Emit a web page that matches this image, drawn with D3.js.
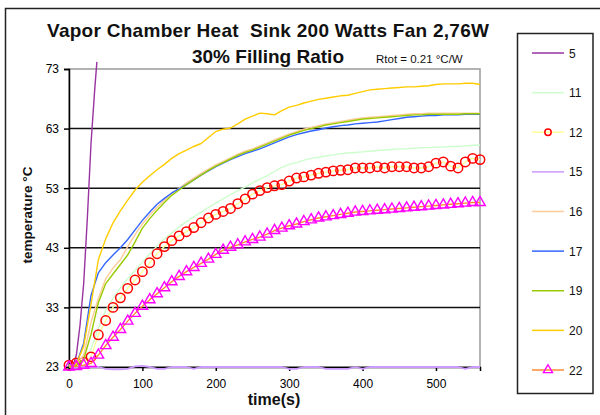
<!DOCTYPE html>
<html>
<head>
<meta charset="utf-8">
<script src="https://cdn.jsdelivr.net/npm/d3@7"></script>
<style>
  html, body { margin: 0; padding: 0; background: #fff; }
  svg text { font-family: "Liberation Sans", Arial, sans-serif; white-space: pre; }
</style>
</head>
<body>
<svg id="chart" width="600" height="415"></svg>
<script>
// ---------- data ----------
const titleLine1 = "Vapor Chamber Heat  Sink 200 Watts Fan 2,76W";
const titleLine2 = "30% Filling Ratio";
const noteText = "Rtot = 0.21 °C/W";
const xTitle = "time(s)";
const yTitle = "temperature °C";

const xTicks = [0, 100, 200, 300, 400, 500];
const yTicks = [23, 33, 43, 53, 63, 73];

const seriesNames = ["5", "11", "12", "15", "16", "17", "19", "20", "22"];

// common time base (s)
const time = [0,10,20,30,40,50,60,70,80,90,100,110,120,130,140,150,160,170,180,190,
  200,210,220,230,240,250,260,270,280,290,300,310,320,330,340,350,360,370,380,390,
  400,410,420,430,440,450,460,470,480,490,500,510,520,530,540,550,560];

// series 5 has its own short time base
const time5 = [0, 5, 10, 15, 20, 25, 30, 35, 38];
const s5 = [23, 23, 25, 30, 37, 48, 60.5, 69.5, 74.2];

const s11 = [23,23.3,24,26,29.5,32.5,34.5,36.3,37.8,39.2,40.6,42,43.3,44.5,45.5,46.5,47.4,48.2,49,49.8,
  50.5,51.2,51.9,52.6,53.2,53.9,54.5,55.1,55.8,56.5,57,57.3,57.7,58,58.2,58.4,58.6,58.8,58.9,59,
  59.1,59.2,59.3,59.4,59.5,59.6,59.6,59.7,59.8,59.8,59.9,59.9,60,60,60.1,60.2,60.2];

const s12 = [23.3,23.7,23.8,24.7,28.4,30.8,33,34.6,36.2,37.6,39,40.5,42,43.2,44.2,45,45.7,46.4,47.2,48,
  48.6,49.1,49.6,50.4,51.2,52,52.6,53.1,53.4,53.6,54.2,54.7,54.9,55.2,55.5,55.7,55.9,56,56.1,56.4,
  56.4,56.4,56.6,56.4,56.6,56.6,56.6,56.4,56.4,56.6,57.2,57.4,56.7,56.4,57.4,58,57.8];

const s15 = [23,23,23,23,23,22.7,22.6,22.6,22.7,23.1,23.2,23,22.7,22.7,23,23,23,22.7,23,23,
  23,23,23,23,23,23,23,23,23,23,22.7,22.7,23,23,23,22.7,22.7,22.7,22.7,23,
  22.7,23,23,23,23,23,23,23,23,23,23,23,23,23,22.7,23,23];

const s16 = [23,23.4,25,30.5,34.5,37.8,39.6,41,43.2,45.2,47,48.5,49.8,51,52.1,53,53.9,54.7,55.5,56.2,
  56.9,57.5,58.1,58.7,59.2,59.6,60.1,60.6,61.1,61.6,62.1,62.5,62.9,63.2,63.5,63.8,64,64.2,64.4,64.6,
  64.8,64.9,65,65.1,65.2,65.3,65.4,65.5,65.5,65.6,65.6,65.6,65.6,65.6,65.6,65.6,65.6];

const s17 = [23,23.5,27,35,38.8,40.5,41.8,43,44.4,46,47.6,49,50.3,51.3,52.2,52.9,53.6,54.4,55.2,55.9,
  56.6,57.2,57.8,58.3,58.8,59.2,59.6,60.1,60.6,61.1,61.6,62,62.3,62.6,62.8,63.1,63.3,63.5,63.6,63.8,
  63.9,64,64.1,64.3,64.5,64.7,64.9,65,65.1,65.2,65.2,65.3,65.3,65.3,65.4,65.4,65.4];

const s19 = [23,23.3,24.3,28.5,33.8,37,38.6,40.2,41.8,44,46.3,47.9,49.3,50.6,51.8,52.7,53.6,54.4,55.2,56,
  56.7,57.3,57.9,58.5,59,59.4,59.9,60.4,60.9,61.4,61.9,62.3,62.7,63,63.3,63.6,63.8,64,64.2,64.4,
  64.6,64.7,64.8,64.9,65,65.1,65.2,65.3,65.3,65.4,65.4,65.4,65.4,65.4,65.5,65.5,65.5];

const s20 = [23,23.5,26.5,33.5,41,44.5,47.2,49.2,51,52.7,54,55.1,56.1,57,58,58.8,59.4,60,60.5,61.5,
  62.5,62.9,63.1,63.8,64.6,65.1,65.6,65.5,65.3,66,66.6,66.9,67.3,67.6,67.9,68.1,68.3,68.5,68.6,68.9,
  69.2,69.5,69.6,69.7,69.8,69.9,70,70,70.1,70.2,70.4,70.5,70.5,70.5,70.6,70.6,70.4];

const s22 = [23,23.1,23.3,23.6,25,26.6,28,29.3,30.7,32,33.2,34.3,35.3,36.3,37.3,38.2,39,39.7,40.4,41.1,
  41.9,42.6,43.1,43.5,44,44.4,44.8,45.3,45.9,46.3,46.7,47,47.4,47.7,48,48.2,48.4,48.6,48.8,49,
  49.1,49.2,49.3,49.4,49.5,49.6,49.7,49.8,49.9,50,50.1,50.2,50.3,50.4,50.5,50.6,50.6];

// ---------- styles ----------
const lineColor = {"5":"#9933a0","11":"#ccffcc","12":"#ffff99","15":"#cc99ff","16":"#ffcc99",
  "17":"#3366ff","19":"#99cc00","20":"#ffcc00","22":"#ff8c33"};
const markerType = {"12":"circle","22":"triangle"};
const markerColor = {"12":"#ff0000","22":"#ff00ff"};

const seriesData = {
  "5": time5.map((t,i)=>[t,s5[i]]),
  "11": time.map((t,i)=>[t,s11[i]]),
  "12": time.map((t,i)=>[t,s12[i]]),
  "15": time.map((t,i)=>[t,s15[i]]),
  "16": time.map((t,i)=>[t,s16[i]]),
  "17": time.map((t,i)=>[t,s17[i]]),
  "19": time.map((t,i)=>[t,s19[i]]),
  "20": time.map((t,i)=>[t,s20[i]]),
  "22": time.map((t,i)=>[t,s22[i]])
};

// ---------- layout ----------
const svg = d3.select("#chart");
const plot = {left: 69, right: 480, top: 69, bottom: 367};

const x = d3.scaleLinear().domain([0, 560]).range([plot.left, plot.right]);
const y = d3.scaleLinear().domain([23, 73]).range([plot.bottom, plot.top]);

// outer chart border
svg.append("rect").attr("x", 5.5).attr("y", 8.5).attr("width", 600).attr("height", 420)
  .attr("fill", "#fff").attr("stroke", "#222").attr("stroke-width", 1.5);

// plot border (gray top/right)
svg.append("rect").attr("x", plot.left).attr("y", plot.top)
  .attr("width", plot.right - plot.left).attr("height", plot.bottom - plot.top)
  .attr("fill", "#fff").attr("stroke", "#9a9a9a").attr("stroke-width", 1.5);

// gridlines
svg.append("g").selectAll("line").data(yTicks.filter(v => v > 23 && v < 73)).join("line")
  .attr("x1", plot.left).attr("x2", plot.right)
  .attr("y1", d => y(d)).attr("y2", d => y(d))
  .attr("stroke", "#111").attr("stroke-width", 1.5);

// axes
const yAxis = d3.axisLeft(y).tickValues(yTicks).tickSize(5).tickPadding(5).tickFormat(d3.format("d"));
const gy = svg.append("g").attr("transform", `translate(${plot.left},0)`).call(yAxis);
gy.select(".domain").attr("stroke", "#000").attr("stroke-width", 1.5);
gy.selectAll(".tick line").attr("stroke", "#000").attr("stroke-width", 1.5);
gy.selectAll("text").attr("font-size", 12).attr("fill", "#000")
  .attr("font-family", "'Liberation Sans', Arial, sans-serif");

const xAxis = d3.axisBottom(x).tickValues(xTicks).tickSize(4).tickPadding(8).tickFormat(d3.format("d"));
const gx = svg.append("g").attr("transform", `translate(0,${plot.bottom})`).call(xAxis);
gx.select(".domain").attr("stroke", "#000").attr("stroke-width", 1.5);
gx.selectAll(".tick line").attr("stroke", "#000").attr("stroke-width", 1.5);
gx.selectAll("text").attr("font-size", 12).attr("fill", "#000")
  .attr("font-family", "'Liberation Sans', Arial, sans-serif");

// series
const line = d3.line().x(d => x(d[0])).y(d => y(d[1]));
const triPath = d3.symbol().type(d3.symbolTriangle).size(48)();

const gs = svg.append("g");
seriesNames.forEach(name => {
  const data = seriesData[name];
  gs.append("path").datum(data).attr("d", line)
    .attr("fill", "none").attr("stroke", lineColor[name])
    .attr("stroke-width", name === "15" ? 1.8 : 1.4).attr("stroke-linejoin", "round");
  if (markerType[name] === "circle") {
    gs.append("g").selectAll("circle").data(data).join("circle")
      .attr("cx", d => x(d[0])).attr("cy", d => y(d[1])).attr("r", 4.7)
      .attr("fill", "none").attr("stroke", markerColor[name]).attr("stroke-width", 1.5);
  } else if (markerType[name] === "triangle") {
    gs.append("g").selectAll("path").data(data).join("path")
      .attr("d", triPath)
      .attr("transform", d => `translate(${x(d[0])},${y(d[1])})`)
      .attr("fill", "none").attr("stroke", markerColor[name]).attr("stroke-width", 1.4);
  }
});

// titles
svg.append("text").attr("x", 268).attr("y", 37).attr("text-anchor", "middle")
  .attr("font-size", 19).attr("font-weight", "bold").attr("fill", "#111")
  .attr("textLength", 442).attr("lengthAdjust", "spacing").text(titleLine1);
svg.append("text").attr("x", 268).attr("y", 63).attr("text-anchor", "middle")
  .attr("font-size", 19).attr("font-weight", "bold").attr("fill", "#111").text(titleLine2);
svg.append("text").attr("x", 376).attr("y", 63)
  .attr("font-size", 11.5).attr("fill", "#111").text(noteText);

svg.append("text").attr("x", 274).attr("y", 405).attr("text-anchor", "middle")
  .attr("font-size", 16).attr("font-weight", "bold").attr("fill", "#111").text(xTitle);
svg.append("text").attr("transform", "translate(32,215) rotate(-90)").attr("text-anchor", "middle")
  .attr("font-size", 13.5).attr("font-weight", "bold").attr("fill", "#111").text(yTitle);

// legend
const lg = svg.append("g");
lg.append("rect").attr("x", 517.5).attr("y", 33.5).attr("width", 75.5).attr("height", 360)
  .attr("fill", "#fff").attr("stroke", "#222").attr("stroke-width", 1.5);
const legY = d3.scalePoint().domain(seriesNames).range([53, 370]);
seriesNames.forEach(name => {
  const yy = legY(name);
  lg.append("line").attr("x1", 532).attr("x2", 564).attr("y1", yy).attr("y2", yy)
    .attr("stroke", lineColor[name]).attr("stroke-width", 1.5);
  if (markerType[name] === "circle") {
    lg.append("circle").attr("cx", 548).attr("cy", yy).attr("r", 3.2)
      .attr("fill", "none").attr("stroke", markerColor[name]).attr("stroke-width", 1.5);
  } else if (markerType[name] === "triangle") {
    lg.append("path").attr("d", d3.symbol().type(d3.symbolTriangle).size(36)())
      .attr("transform", `translate(548,${yy})`)
      .attr("fill", "none").attr("stroke", markerColor[name]).attr("stroke-width", 1.4);
  }
  lg.append("text").attr("x", 569).attr("y", yy + 4.5).attr("font-size", 12)
    .attr("fill", "#111").text(name);
});
</script>
</body>
</html>
